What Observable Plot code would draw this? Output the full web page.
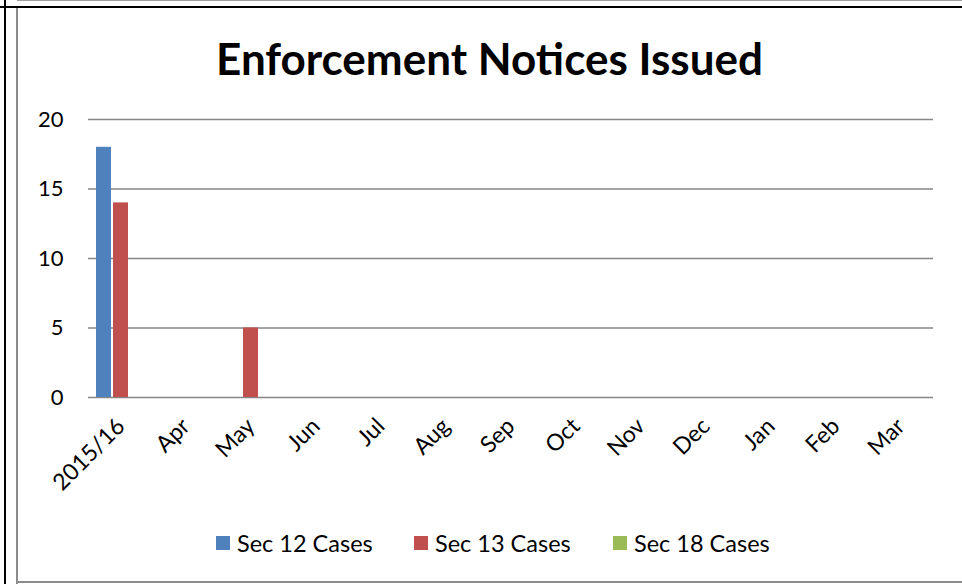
<!DOCTYPE html>
<html>
<head>
<meta charset="utf-8">
<script src="https://cdn.jsdelivr.net/npm/d3@7"></script>
<script src="https://cdn.jsdelivr.net/npm/@observablehq/plot@0.6"></script>
<style>
  html, body { margin: 0; padding: 0; background: #fff; }
  #page { position: relative; width: 962px; height: 584px; overflow: hidden; font-family: Lato, "Open Sans", sans-serif; color: #000; }
  .line { position: absolute; }
  #title { position: absolute; left: 17px; width: 945px; top: 30px; text-align: center; font-weight: bold; font-size: 44px; line-height: 56px; }
  #chart { position: absolute; left: 0; top: 90px; }
  #legend { position: absolute; left: 0; top: 529px; width: 962px; height: 28px; }
  .item { position: absolute; top: 0; display: flex; align-items: center; font-size: 23.5px; line-height: 28px; white-space: nowrap; }
  .sw { width: 14px; height: 14px; margin-right: 7px; }
</style>
</head>
<body>
<div id="page">
  <div class="line" style="left:17px;top:0;width:945px;height:1px;background:#a0a0a0"></div>
  <div class="line" style="left:0;top:6px;width:962px;height:2px;background:#000"></div>
  <div class="line" style="left:4px;top:0;width:2px;height:584px;background:#000"></div>
  <div class="line" style="left:16px;top:8px;width:2px;height:576px;background:#8c8c8c"></div>
  <div class="line" style="left:16px;top:581px;width:946px;height:2px;background:#8c8c8c"></div>
  <div id="title">Enforcement Notices Issued</div>
  <div id="chart"></div>
  <div id="legend"></div>
</div>
<script>
const months = ["2015/16", "Apr", "May", "Jun", "Jul", "Aug", "Sep", "Oct", "Nov", "Dec", "Jan", "Feb", "Mar"];
const seriesNames = ["Sec 12 Cases", "Sec 13 Cases", "Sec 18 Cases"];
const sec12 = [18, 0, 0, 0, 0, 0, 0, 0, 0, 0, 0, 0, 0];
const sec13 = [14, 0, 5, 0, 0, 0, 0, 0, 0, 0, 0, 0, 0];
const sec18 = [0, 0, 0, 0, 0, 0, 0, 0, 0, 0, 0, 0, 0];
const colors = ["#4F81BD", "#C0504D", "#9BBB59"];
const yTicks = [0, 5, 10, 15, 20];

const seriesValues = [sec12, sec13, sec18];
const data = [];
months.forEach((m, i) => {
  seriesNames.forEach((s, j) => data.push({month: m, series: s, value: seriesValues[j][i]}));
});

const chart = Plot.plot({
  width: 962,
  height: 407,
  marginLeft: 87,
  marginRight: 29,
  marginTop: 29,
  marginBottom: 100,
  style: {fontFamily: "Lato, 'Open Sans', sans-serif", fontSize: "22px", color: "#000", background: "transparent"},
  fx: {domain: months, padding: 0, label: null},
  x: {domain: seriesNames, paddingInner: 0.12, paddingOuter: 0.4, axis: null},
  y: {domain: [0, 20], label: null},
  color: {domain: seriesNames, range: colors},
  marks: [
    Plot.gridY(yTicks, {stroke: "#868686", strokeOpacity: 1, strokeWidth: 1.5}),
    Plot.axisY(yTicks, {tickSize: 0, tickPadding: 25, fontSize: 22, label: null}),
    Plot.barY(data, {fx: "month", x: "series", y: "value", fill: "series"}),
    Plot.axisFx({tickSize: 0, tickRotate: -45, tickPadding: 17, dy: 8, fontSize: 23, label: null, anchor: "bottom"})
  ]
});
document.getElementById("chart").appendChild(chart);

const legend = document.getElementById("legend");
const lefts = [216, 414, 613];
seriesNames.forEach((s, j) => {
  const item = document.createElement("div");
  item.className = "item";
  item.style.left = lefts[j] + "px";
  const sw = document.createElement("div");
  sw.className = "sw";
  sw.style.background = colors[j];
  item.appendChild(sw);
  const t = document.createElement("span");
  t.textContent = s;
  item.appendChild(t);
  legend.appendChild(item);
});
</script>
</body>
</html>
